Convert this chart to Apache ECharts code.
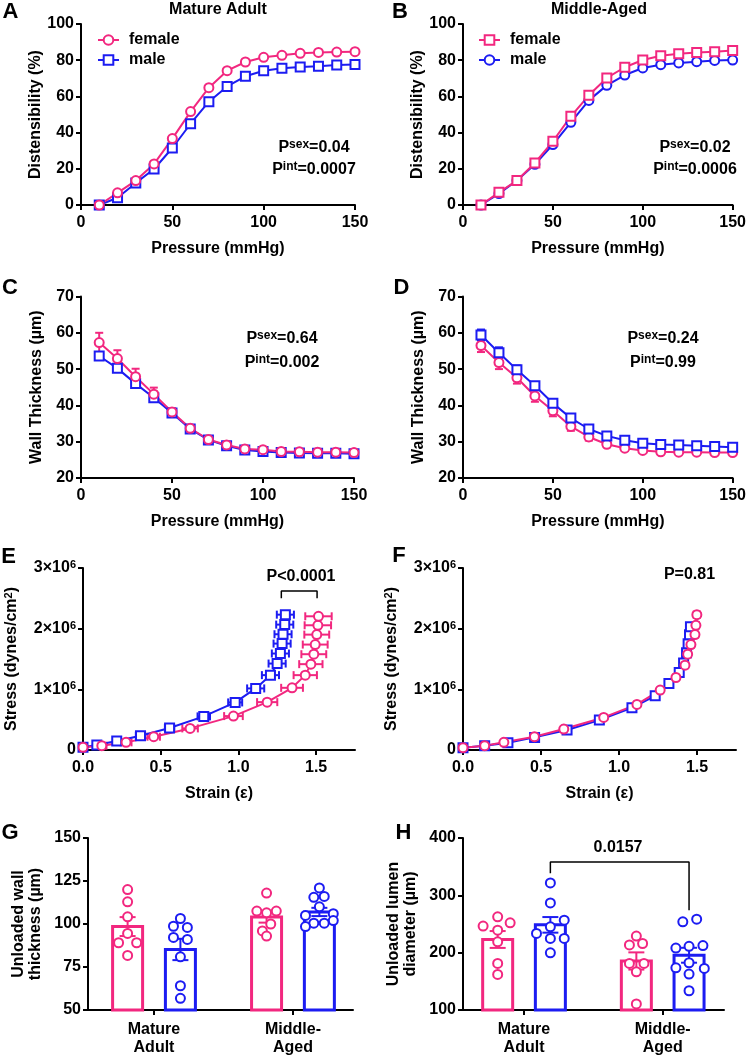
<!DOCTYPE html>
<html><head><meta charset="utf-8">
<script src="https://cdn.jsdelivr.net/npm/echarts@6/dist/echarts.min.js"></script>
<style>html,body{margin:0;padding:0;background:#fff}#c{width:749px;height:1058px}</style>
</head><body><div id="c"></div>
<script>
// ---------------- DATA ----------------
const pressure = [10,20,30,40,50,60,70,80,90,100,110,120,130,140,150];
// Distensibility (%)
const distMatureFemale = [0,6.7,13.5,22.7,36.7,51.6,64.8,74.2,79.0,81.6,82.7,83.8,84.3,84.5,84.7];
const distMatureMale   = [0,4.0,12.2,19.9,31.5,44.9,57.1,65.5,71.1,74.2,75.5,76.3,76.6,77.3,77.6];
const distMiddleFemale = [0,7.0,13.5,23.2,35.2,49.0,60.6,70.2,76.1,80.1,82.5,83.6,84.3,84.7,85.3];
const distMiddleMale   = [0,6.3,13.5,22.5,33.4,45.7,57.8,66.1,71.8,75.7,77.5,78.5,79.2,79.9,80.1];
// Wall thickness (µm) mean and SEM
const wallMatureFemale    = [57.3,52.9,47.9,43.1,38.2,33.7,30.6,29.1,28.0,27.8,27.3,27.2,27.1,27.1,27.0];
const wallMatureFemaleSem = [2.7,2.3,2.2,1.8,1.0,0.7,0.5,0.5,0.5,0.5,0.5,0.5,0.5,0.5,0.5];
const wallMatureMale      = [53.6,50.2,46.0,42.1,37.9,33.5,30.5,28.9,27.7,27.3,27.0,26.9,26.8,26.8,26.7];
const wallMatureMaleSem   = [0.8,0.8,0.8,0.7,0.6,0.5,0.5,0.5,0.4,0.4,0.4,0.4,0.4,0.4,0.4];
const wallMiddleFemale    = [56.5,51.8,47.6,42.6,38.5,34.2,31.3,29.3,28.2,27.6,27.2,27.1,27.1,27.0,27.0];
const wallMiddleFemaleSem = [1.8,1.8,1.6,1.6,1.5,1.2,1.0,0.8,0.7,0.6,0.5,0.5,0.5,0.5,0.5];
const wallMiddleMale      = [59.4,54.5,49.8,45.4,40.6,36.5,33.5,31.6,30.4,29.6,29.2,29.1,28.9,28.7,28.5];
const wallMiddleMaleSem   = [1.5,1.5,1.2,1.0,0.9,0.9,0.8,0.7,0.7,0.6,0.6,0.6,0.6,0.6,0.6];
// Stress (×10^6 dynes/cm²) vs strain
const strainMatureMale      = [0,0.089,0.217,0.370,0.557,0.777,0.979,1.111,1.206,1.249,1.270,1.281,1.287,1.298,1.302];
const strainMatureMaleSem   = [0.01,0.02,0.02,0.03,0.03,0.04,0.045,0.055,0.055,0.055,0.055,0.055,0.055,0.055,0.055];
const stressMatureMale      = [0.044,0.082,0.148,0.236,0.362,0.554,0.784,1.015,1.234,1.425,1.590,1.754,1.908,2.067,2.231];
const strainMatureFemale    = [0,0.121,0.277,0.455,0.689,0.968,1.185,1.345,1.430,1.466,1.485,1.494,1.504,1.511,1.515];
const strainMatureFemaleSem = [0.01,0.03,0.035,0.04,0.05,0.06,0.065,0.07,0.075,0.075,0.08,0.08,0.08,0.085,0.085];
const stressMatureFemale    = [0.044,0.071,0.126,0.219,0.356,0.559,0.789,1.025,1.234,1.415,1.579,1.738,1.902,2.056,2.204];
const strainMiddleMale      = [0,0.139,0.288,0.459,0.667,0.874,1.083,1.232,1.320,1.386,1.414,1.433,1.443,1.452,1.458];
const strainMiddleMaleSem   = [0.005,0.01,0.01,0.01,0.01,0.015,0.015,0.015,0.015,0.02,0.02,0.02,0.02,0.02,0.02];
const stressMiddleMale      = [0.038,0.071,0.121,0.208,0.329,0.493,0.696,0.894,1.096,1.277,1.436,1.601,1.750,1.900,2.030];
const strainMiddleFemale    = [0,0.139,0.262,0.458,0.646,0.902,1.115,1.264,1.365,1.423,1.440,1.461,1.487,1.493,1.499];
const strainMiddleFemaleSem = [0.005,0.01,0.01,0.01,0.01,0.015,0.015,0.015,0.015,0.02,0.02,0.02,0.02,0.02,0.02];
const stressMiddleFemale    = [0.038,0.071,0.126,0.219,0.345,0.537,0.751,0.987,1.195,1.398,1.579,1.738,1.903,2.056,2.231];
// Unloaded wall thickness (µm)
const groups = ['Mature\nAdult','Middle-\nAged'];
const wallFemaleMean = [98.5,104.0];
const wallFemaleSem  = [5.5,3.2];
const wallMaleMean   = [85.2,107.0];
const wallMaleSem    = [6.2,2.4];
const wallFemalePts  = [[120.0,112.9,104.2,94.5,89.1,89.1,81.7],[118,107.5,106.5,107.5,100,96,93]];
const wallMalePts    = [[103.2,98.7,98.0,92.2,91.0,80.9,64.1,56.8],[121,115.5,116,110,105,106,102,100.5,100.5,98.5]];
// Unloaded lumen diameter (µm)
const lumenFemaleMean = [223,185.5];
const lumenFemaleSem  = [14.7,15];
const lumenMaleMean   = [248.5,195.5];
const lumenMaleSem    = [13.6,13];
const lumenFemalePts  = [[262.5,252,246.3,239.3,219,181.3,162.1],[228.9,213.5,216,181.3,181.3,166.7,110.5]];
const lumenMalePts    = [[321.7,286.8,256.7,245,233.5,224.8,224.8,199.8],[253.8,258.5,208,211,212.3,173.6,182.4,172.6,162.7,133.6]];

// ---------------- LAYOUT (jitter of dots, in group units) ----------------
const jWallF = [[0,0,0,0,-0.065,0.065,0],[0,-0.07,0,0.07,0.03,-0.03,0]];
const jWallM = [[0,-0.05,0.05,-0.05,0.05,0,0,0],[0,-0.04,0.035,0,-0.1,0.1,0.1,-0.04,0.035,-0.1]];
const jLumF  = [[0,0.09,-0.105,0,0,0,0],[0,-0.05,0.045,-0.05,0.055,0,0]];
const jLumM  = [[0,0,0.1,0,-0.1,0,0.1,0],[-0.045,0.055,-0.095,0,0.1,-0.095,0,0.11,0,0]];

const PINK = '#F2277F', BLUE = '#1C1CF2';
const FONT = "'Liberation Sans', Arial, sans-serif";
const SUP = {fontSize:12, fontWeight:'bold', fontFamily:FONT, color:'#000', verticalAlign:'top', lineHeight:18};
const NORM = {fontSize:16, fontWeight:'bold', fontFamily:FONT, color:'#000', lineHeight:18};

const grids = [
  {left:81, top:24, width:274, height:181},
  {left:463, top:24, width:272, height:181},
  {left:81, top:296.5, width:273, height:181.5},
  {left:463, top:296.5, width:272, height:181.5},
  {left:83, top:568, width:272, height:182},
  {left:463, top:568, width:273, height:182},
  {left:88, top:838, width:265, height:172},
  {left:463, top:838, width:261, height:172}
];

function baseAxis(extra){
  return Object.assign({
    gridIndex:0, splitLine:{show:false},
    axisLine:{onZero:false, lineStyle:{color:'#000', width:2}},
    axisTick:{length:5, lineStyle:{color:'#000', width:2}},
    axisLabel:{color:'#000', fontWeight:'bold', fontSize:16, fontFamily:FONT},
    nameLocation:'middle',
    nameTextStyle:{color:'#000', fontWeight:'bold', fontSize:16, fontFamily:FONT}
  }, extra);
}
function xPressure(g){
  const a = baseAxis({gridIndex:g, type:'value', min:0, max:150, interval:50, name:'Pressure (mmHg)', nameGap:36});
  a.axisLabel = Object.assign({}, a.axisLabel, {margin:10});
  return a;
}
function xStrain(g){
  const a = baseAxis({gridIndex:g, type:'value', min:0, max:1.75, interval:0.25, name:'Strain (ε)', nameGap:36});
  a.axisLabel = Object.assign({}, a.axisLabel, {margin:10, customValues:[0,0.5,1,1.5], formatter:v=>v.toFixed(1)});
  a.axisTick = Object.assign({}, a.axisTick, {customValues:[0,0.5,1,1.5]});
  return a;
}
function xGroup(g, min, max){
  const a = baseAxis({gridIndex:g, type:'value', min, max});
  a.axisLabel = Object.assign({}, a.axisLabel, {margin:11, lineHeight:18, fontSize:16, customValues:[0,1], formatter:v=>groups[Math.round(v)]});
  a.axisTick = Object.assign({}, a.axisTick, {customValues:[0,1]});
  return a;
}
function yAx(g, min, max, interval, name, gap, extraLabel, extraName){
  const a = baseAxis({gridIndex:g, type:'value', min, max, interval, name, nameGap:gap});
  a.axisLabel = Object.assign({}, a.axisLabel, {margin:7}, extraLabel||{});
  if (extraName) a.nameTextStyle = Object.assign({}, a.nameTextStyle, extraName);
  return a;
}
const stressLabel = {formatter:v=> v===0 ? '0' : v+'×10{s|6}', rich:{s:{fontSize:11, fontWeight:'bold', fontFamily:FONT, color:'#000', verticalAlign:'top', lineHeight:17}}};
const stressName = {rich:{s:{fontSize:11, fontWeight:'bold', fontFamily:FONT, color:'#000', verticalAlign:'top', lineHeight:18}}, lineHeight:18};

const xAxis = [xPressure(0), xPressure(1), xPressure(2), xPressure(3), xStrain(4), xStrain(5), xGroup(6,-0.475,1.432), xGroup(7,-0.44,1.442)];
const yAxis = [
  yAx(0,0,100,20,'Distensibility (%)',36),
  yAx(1,0,100,20,'Distensibility (%)',36),
  yAx(2,20,70,10,'Wall Thickness (µm)',36),
  yAx(3,20,70,10,'Wall Thickness (µm)',36),
  yAx(4,0,3,1,'Stress (dynes/cm{s|2})',62,stressLabel,stressName),
  yAx(5,0,3,1,'Stress (dynes/cm{s|2})',62,stressLabel,stressName),
  yAx(6,50,150,25,'Unloaded wall\nthickness (µm)',44,null,{lineHeight:17}),
  yAx(7,100,400,100,'Unloaded lumen\ndiameter (µm)',44,null,{lineHeight:17})
];

function zip(xs, ys){ return xs.map((x,i)=>[x, ys[i]]); }
function line(idx, name, xs, ys, color, symbol){
  return {type:'line', name, xAxisIndex:idx, yAxisIndex:idx, data:zip(xs,ys), symbol, symbolSize:9,
    showAllSymbol:true, color, lineStyle:{color, width:2}, itemStyle:{color, borderWidth:2}, z:3};
}
function vErr(idx, xs, ys, es, color){
  return {type:'custom', xAxisIndex:idx, yAxisIndex:idx, data:xs.map((x,i)=>[x,ys[i],es[i]]), z:2, silent:true,
    renderItem(p, api){
      const x=api.value(0), y=api.value(1), e=api.value(2);
      const t=api.coord([x,y+e]), b=api.coord([x,y-e]), w=4, st={stroke:color, lineWidth:2};
      return {type:'group', children:[
        {type:'line', shape:{x1:t[0],y1:t[1],x2:b[0],y2:b[1]}, style:st},
        {type:'line', shape:{x1:t[0]-w,y1:t[1],x2:t[0]+w,y2:t[1]}, style:st},
        {type:'line', shape:{x1:b[0]-w,y1:b[1],x2:b[0]+w,y2:b[1]}, style:st}]};
    }};
}
function hErr(idx, xs, ys, es, color){
  return {type:'custom', xAxisIndex:idx, yAxisIndex:idx, data:xs.map((x,i)=>[x,ys[i],es[i]]), z:2, silent:true,
    renderItem(p, api){
      const x=api.value(0), y=api.value(1), e=api.value(2);
      const l=api.coord([x-e,y]), r=api.coord([x+e,y]), h=4, st={stroke:color, lineWidth:2};
      return {type:'group', children:[
        {type:'line', shape:{x1:l[0],y1:l[1],x2:r[0],y2:r[1]}, style:st},
        {type:'line', shape:{x1:l[0],y1:l[1]-h,x2:l[0],y2:l[1]+h}, style:st},
        {type:'line', shape:{x1:r[0],y1:r[1]-h,x2:r[0],y2:r[1]+h}, style:st}]};
    }};
}
const OFF = 0.19;
function bars(idx, offset, means, base, color){
  return {type:'custom', xAxisIndex:idx, yAxisIndex:idx, data:means.map((m,i)=>[i+offset, m]), z:1, silent:true,
    renderItem(p, api){
      const t=api.coord([api.value(0), api.value(1)]), b=api.coord([api.value(0), base]);
      return {type:'rect', shape:{x:t[0]-15, y:t[1], width:30, height:b[1]-t[1]}, style:{fill:'#fff', stroke:color, lineWidth:3}};
    }};
}
function barErr(idx, offset, means, sems, color){
  return {type:'custom', xAxisIndex:idx, yAxisIndex:idx, data:means.map((m,i)=>[i+offset, m, sems[i]]), z:4, silent:true,
    renderItem(p, api){
      const x=api.value(0), y=api.value(1), e=api.value(2);
      const t=api.coord([x,y+e]), b=api.coord([x,y-e]), w=8, st={stroke:color, lineWidth:2};
      return {type:'group', children:[
        {type:'line', shape:{x1:t[0],y1:t[1],x2:b[0],y2:b[1]}, style:st},
        {type:'line', shape:{x1:t[0]-w,y1:t[1],x2:t[0]+w,y2:t[1]}, style:st},
        {type:'line', shape:{x1:b[0]-w,y1:b[1],x2:b[0]+w,y2:b[1]}, style:st}]};
    }};
}
function dots(idx, offset, pts, jit, color){
  const data = [];
  pts.forEach((arr,g)=>arr.forEach((v,i)=>data.push([g+offset+jit[g][i], v])));
  return {type:'scatter', xAxisIndex:idx, yAxisIndex:idx, data, symbol:'emptyCircle', symbolSize:9, color, itemStyle:{color, borderWidth:2, opacity:1}, z:5};
}
function bracket(idx, pts){
  return {type:'line', xAxisIndex:idx, yAxisIndex:idx, data:pts, symbol:'none', lineStyle:{color:'#000', width:1.5}, z:6, silent:true};
}

const series = [
  // A
  line(0,'male',pressure,distMatureMale,BLUE,'emptyRect'),
  line(0,'female',pressure,distMatureFemale,PINK,'emptyCircle'),
  // B
  line(1,'male (Middle-Aged)',pressure,distMiddleMale,BLUE,'emptyCircle'),
  line(1,'female (Middle-Aged)',pressure,distMiddleFemale,PINK,'emptyRect'),
  // C
  vErr(2,pressure,wallMatureMale,wallMatureMaleSem,BLUE),
  vErr(2,pressure,wallMatureFemale,wallMatureFemaleSem,PINK),
  line(2,'male C',pressure,wallMatureMale,BLUE,'emptyRect'),
  line(2,'female C',pressure,wallMatureFemale,PINK,'emptyCircle'),
  // D
  vErr(3,pressure,wallMiddleFemale,wallMiddleFemaleSem,PINK),
  vErr(3,pressure,wallMiddleMale,wallMiddleMaleSem,BLUE),
  line(3,'female D',pressure,wallMiddleFemale,PINK,'emptyCircle'),
  line(3,'male D',pressure,wallMiddleMale,BLUE,'emptyRect'),
  // E
  hErr(4,strainMatureMale,stressMatureMale,strainMatureMaleSem,BLUE),
  hErr(4,strainMatureFemale,stressMatureFemale,strainMatureFemaleSem,PINK),
  line(4,'male E',strainMatureMale,stressMatureMale,BLUE,'emptyRect'),
  line(4,'female E',strainMatureFemale,stressMatureFemale,PINK,'emptyCircle'),
  bracket(4,[[1.276,2.5],[1.276,2.62],[1.506,2.62],[1.506,2.5]]),
  // F
  hErr(5,strainMiddleMale,stressMiddleMale,strainMiddleMaleSem,BLUE),
  hErr(5,strainMiddleFemale,stressMiddleFemale,strainMiddleFemaleSem,PINK),
  line(5,'male F',strainMiddleMale,stressMiddleMale,BLUE,'emptyRect'),
  line(5,'female F',strainMiddleFemale,stressMiddleFemale,PINK,'emptyCircle'),
  // G
  bars(6,-OFF,wallFemaleMean,50,PINK), bars(6,OFF,wallMaleMean,50,BLUE),
  barErr(6,-OFF,wallFemaleMean,wallFemaleSem,PINK), barErr(6,OFF,wallMaleMean,wallMaleSem,BLUE),
  dots(6,-OFF,wallFemalePts,jWallF,PINK), dots(6,OFF,wallMalePts,jWallM,BLUE),
  // H
  bars(7,-OFF,lumenFemaleMean,100,PINK), bars(7,OFF,lumenMaleMean,100,BLUE),
  barErr(7,-OFF,lumenFemaleMean,lumenFemaleSem,PINK), barErr(7,OFF,lumenMaleMean,lumenMaleSem,BLUE),
  dots(7,-OFF,lumenFemalePts,jLumF,PINK), dots(7,OFF,lumenMalePts,jLumM,BLUE),
  bracket(7,[[OFF,338.5],[OFF,358],[1+OFF,358],[1+OFF,274]])
];

const legendText = {fontSize:16, fontWeight:'bold', fontFamily:FONT, color:'#000', lineHeight:16, padding:[0,0,0,5]};
const legend = [
  {left:97, top:32, padding:0, orient:'vertical', data:['female','male'], itemWidth:21, itemHeight:12, itemGap:4, textStyle:legendText, selectedMode:false},
  {left:478, top:32, padding:0, orient:'vertical', data:['female (Middle-Aged)','male (Middle-Aged)'], formatter:n=>n.split(' ')[0], itemWidth:21, itemHeight:12, itemGap:4, textStyle:legendText, selectedMode:false}
];

function txt(text, x, y, size, align){
  return {type:'text', x, y, style:{text, font:`bold ${size}px ${FONT}`, fill:'#000', align:align||'center', verticalAlign:'middle'}};
}
function ptxt(main, sup, val, x, y){
  return {type:'text', x, y, style:{text:`{n|${main}}{s|${sup}}{n|${val}}`, rich:{n:NORM, s:SUP}, align:'center', verticalAlign:'middle'}};
}
const graphic = [
  txt('A',10.5,11.5,22), txt('B',400,11.5,22), txt('C',10,288,22), txt('D',401.5,288,22),
  txt('E',8.5,557,22), txt('F',399,556,22), txt('G',10,833,22), txt('H',403.5,832.5,22),
  txt('Mature Adult',218,9.5,16), txt('Middle-Aged',599,9.5,16),
  ptxt('P','sex','=0.04',314,148), ptxt('P','int','=0.0007',314,170),
  ptxt('P','sex','=0.02',695,148), ptxt('P','int','=0.0006',695,170),
  ptxt('P','sex','=0.64',282,339), ptxt('P','int','=0.002',282,362.5),
  ptxt('P','sex','=0.24',663,339), ptxt('P','int','=0.99',663,362.5),
  txt('P<0.0001',301,577,16), txt('P=0.81',689.5,575,16), txt('0.0157',618,848,16)
];

const chart = echarts.init(document.getElementById('c'), null, {renderer:'canvas'});
chart.setOption({animation:false, backgroundColor:'#fff', grid:grids, xAxis, yAxis, series, legend, graphic});
</script>
</body></html>
